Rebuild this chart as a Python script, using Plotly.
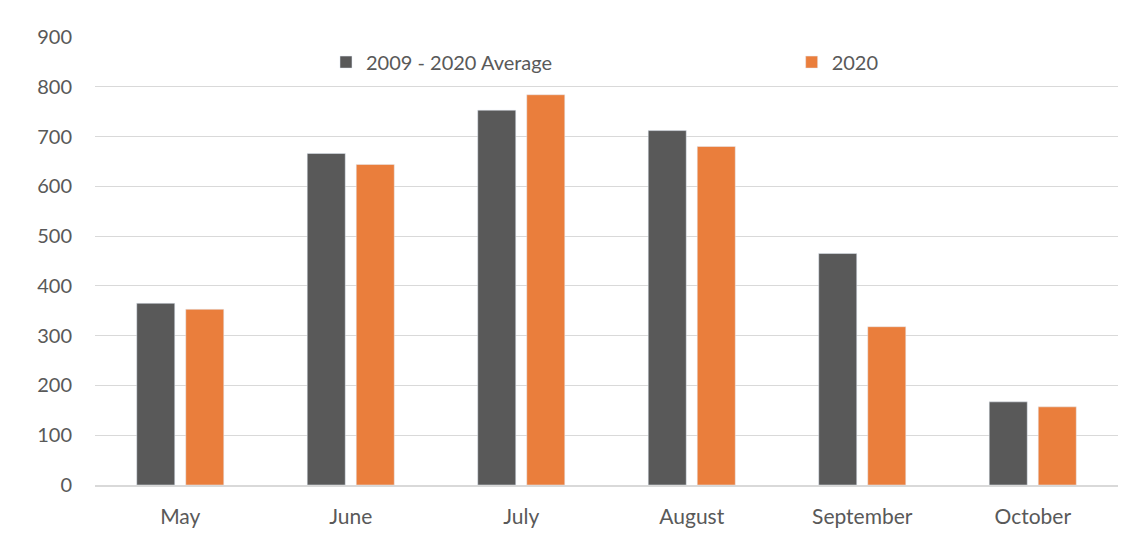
import plotly.graph_objects as go

months = ["May", "June", "July", "August", "September", "October"]
avg_2009_2020 = [365, 666, 753, 712, 465, 167]
values_2020 = [353, 644, 784, 680, 318, 157]

text_color = "#595959"
grid_color = "#d9d9d9"

fig = go.Figure()
fig.add_trace(go.Bar(x=months, y=avg_2009_2020, name="2009 - 2020 Average",
                     marker=dict(color="#595959"), legend="legend", showlegend=True))
fig.add_trace(go.Bar(x=months, y=values_2020, name="2020",
                     marker=dict(color="#ea7e3c"), legend="legend2", showlegend=True))

legend_style = dict(orientation="h", yanchor="middle", y=0.944, xanchor="left",
                    bgcolor="rgba(0,0,0,0)", itemwidth=30,
                    font=dict(family="Lato", size=20, color=text_color))

# page body has an 8px margin, so the margins are trimmed by that amount
fig.update_layout(
    width=1148, height=552,
    margin=dict(l=87, r=38, t=29, b=75),
    paper_bgcolor="white", plot_bgcolor="white",
    font=dict(family="Lato", size=20, color=text_color),
    barmode="group", bargap=0.425, bargroupgap=0.224,
    showlegend=True,
    legend=dict(legend_style, x=0.2258),
    legend2=dict(legend_style, x=0.681),
)
fig.update_xaxes(showgrid=False, showline=True, linecolor=grid_color, linewidth=1.5,
                 ticks="", ticklabelstandoff=12, tickfont=dict(size=21))
fig.update_yaxes(range=[0, 900], dtick=100, showgrid=True, gridcolor=grid_color,
                 gridwidth=1, zeroline=False, showline=False, ticks="",
                 ticklabelstandoff=22)

fig.write_html("out.html")
